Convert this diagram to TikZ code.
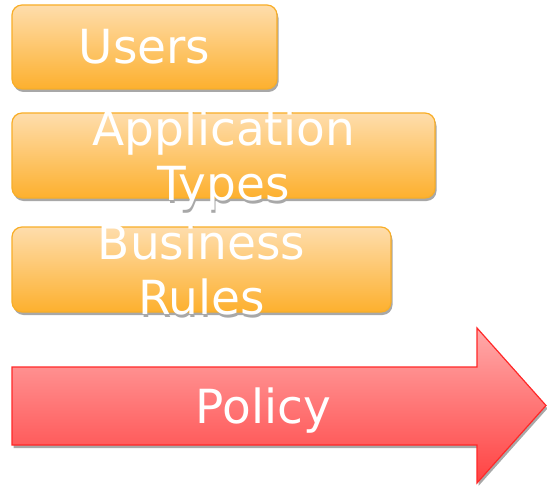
\documentclass[tikz,border=0pt]{standalone}
\usepackage{fontspec}
\setmainfont{DejaVu Sans}
\usetikzlibrary{shadows}

\definecolor{orangetop}{RGB}{254,221,172}
\definecolor{orangebot}{RGB}{253,176,46}
\definecolor{orangeline}{RGB}{248,174,40}
\definecolor{redtop}{RGB}{255,170,170}
\definecolor{redbot}{RGB}{255,66,66}
\definecolor{redline}{RGB}{255,40,40}
\definecolor{shadowgray}{RGB}{168,168,168}

\tikzset{
  bigtext/.style={font=\fontsize{47}{55}\selectfont, align=center, inner sep=0pt, text=white},
  tshadow/.style={bigtext, text=shadowgray, xshift=1pt, yshift=-3pt},
  box/.style={draw=orangeline, line width=1.2pt, inner sep=0pt,
    rounded corners=10pt, top color=orangetop, bottom color=orangebot,
    drop shadow={shadow xshift=1.5pt, shadow yshift=-3pt, fill=shadowgray, opacity=1}},
  bigarrow/.style={draw=redline, line width=1.2pt, top color=redtop, bottom color=redbot,
    drop shadow={shadow xshift=1.5pt, shadow yshift=-3pt, fill=shadowgray, opacity=1}}
}

\begin{document}
\begin{tikzpicture}[x=1pt,y=-1pt]
  \useasboundingbox (0,0) rectangle (547,487);

  % text shadows go under the boxes
  \node[tshadow] (users-sh) at (144.5,47) {Users};
  \node[tshadow] (apps-sh) at (223.5,160) {Application\\Types};
  \node[tshadow] (rules-sh) at (201.5,269.5) {Business\\Rules};

  \node[box, minimum width=265pt, minimum height=84pt] (users) at (144.5,47) {};
  \node[box, minimum width=423pt, minimum height=85pt] (apps) at (223.5,155.5) {};
  \node[box, minimum width=379pt, minimum height=85pt] (rules) at (201.5,269.5) {};

  \node[bigtext] (users-txt) at (users) {Users};
  \node[bigtext] (apps-txt) at (223.5,160) {Application\\Types};
  \node[bigtext] (rules-txt) at (rules) {Business\\Rules};

  % policy arrow
  \path[bigarrow] (12,367) -- (477,367) -- (477,328) -- (546,405.5)
    -- (477,483) -- (477,445) -- (12,445) -- cycle;
  \node[bigtext] (policy) at (263.5,410.5) {Policy};
\end{tikzpicture}
\end{document}
